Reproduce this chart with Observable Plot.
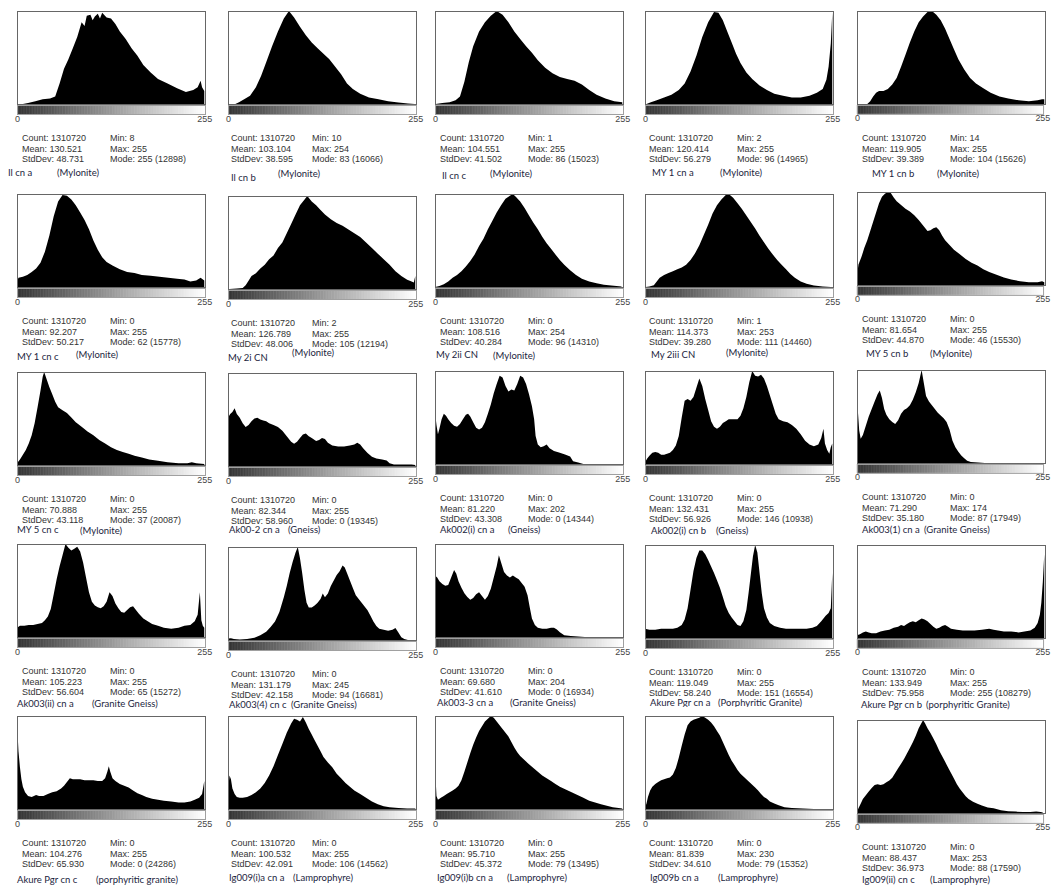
<!DOCTYPE html>
<html><head><meta charset="utf-8">
<script src="https://cdn.jsdelivr.net/npm/d3@7"></script>
<script src="https://cdn.jsdelivr.net/npm/@observablehq/plot@0.6"></script>
<style>
body{margin:0;background:#fff;}
#root{position:relative;width:1055px;height:888px;overflow:hidden;background:#fff;}
.p{position:absolute;}
.st{position:absolute;font-family:"Liberation Sans",Arial,sans-serif;font-size:9px;color:#333;line-height:10.5px;white-space:nowrap;}
.nm{position:absolute;font-family:Lato,"Open Sans",sans-serif;font-size:9.5px;color:#1c2540;white-space:nowrap;line-height:12px;}
.clip{position:absolute;overflow:hidden;}
</style></head><body><div id="root"></div>
<script>
// ---------- DATA ----------
const names = ["Il cn a","Il cn b","Il cn c","MY 1 cn a","MY 1 cn b","MY 1 cn c","My 2i CN","My 2ii CN","My 2iii CN","MY 5 cn b","MY 5 cn c","Ak00-2 cn a","Ak002(i) cn a","Ak002(i) cn b","Ak003(1) cn a","Ak003(ii) cn a","Ak003(4) cn c","Ak003-3 cn a","Akure Pgr cn a","Akure Pgr cn b","Akure Pgr cn c","Ig009(i)a cn a","Ig009(i)b cn a","Ig009b cn a","Ig009(ii) cn c"];
const rockTypes = ["(Mylonite)","(Mylonite)","(Mylonite)","(Mylonite)","(Mylonite)","(Mylonite)","(Mylonite)","(Mylonite)","(Mylonite)","(Mylonite)","(Mylonite)","(Gneiss)","(Gneiss)","(Gneiss)","(Granite Gneiss)","(Granite Gneiss)","(Granite Gneiss)","(Granite Gneiss)","(Porphyritic Granite)","(porphyritic Granite)","(porphyritic granite)","(Lamprophyre)","(Lamprophyre)","(Lamprophyre)","(Lamprophyre)"];
const pixelCount = 1310720;
const means = ["130.521","103.104","104.551","120.414","119.905","92.207","126.789","108.516","114.373","81.654","70.888","82.344","81.220","132.431","71.290","105.223","131.179","69.680","119.049","133.949","104.276","100.532","95.710","81.839","88.437"];
const stdDevs = ["48.731","38.595","41.502","56.279","39.389","50.217","48.006","40.284","39.280","44.870","43.118","58.960","43.308","56.926","35.180","56.604","42.158","41.610","58.240","75.958","65.930","42.091","45.372","34.610","36.973"];
const mins = [8,10,1,2,14,0,2,0,1,0,0,0,0,0,0,0,0,0,0,0,0,0,0,0,0];
const maxs = [255,254,255,255,255,255,255,254,253,255,255,255,202,255,174,255,245,204,255,255,255,255,255,230,253];
const modes = [255,83,86,96,104,62,105,96,111,46,37,0,0,146,87,65,94,0,151,255,0,106,79,79,88];
const modeCounts = [12898,16066,15023,14965,15626,15778,12194,14310,14460,15530,20087,19345,14344,10938,17949,15272,16681,16934,16554,108279,24286,14562,13495,15352,17590];
const tickLabels = [0,255];
const grayLevels = d3.range(256);

// histogram heights (% of panel height) at grey levels: [bin, height]
const h01 = [[8,0],[15,1],[25,3],[35,5],[45,6],[52,8],[58,22],[64,38],[70,48],[76,60],[82,72],[88,88],[92,84],[95,95],[100,96],[103,90],[106,94],[110,97],[113,92],[116,98],[122,93],[128,92],[134,86],[140,78],[148,70],[156,60],[164,52],[172,42],[182,34],[192,27],[205,22],[218,17],[230,13],[240,15],[246,18],[250,25],[252,18],[255,14]];
const h02 = [[10,0],[15,2],[22,5],[30,9],[38,18],[45,30],[52,45],[60,62],[68,78],[76,92],[83,100],[90,93],[98,83],[106,74],[114,66],[122,60],[130,54],[138,48],[146,40],[154,32],[162,22],[170,16],[180,11],[192,7],[205,5],[218,3],[232,1.5],[245,0.5],[254,0]];
const h03 = [[1,0],[10,1],[20,2],[28,4],[34,8],[40,24],[46,45],[52,62],[60,78],[68,88],[76,95],[84,100],[92,96],[100,88],[108,78],[116,70],[124,62],[132,55],[140,47],[150,39],[160,33],[170,29],[180,27],[190,25],[200,21],[210,15],[220,10],[232,6],[244,3],[255,2]];
const h04 = [[2,0],[8,2],[16,4],[26,7],[36,10],[46,15],[54,22],[62,35],[70,52],[78,72],[86,88],[94,99],[100,98],[106,90],[112,78],[118,66],[124,54],[130,44],[138,34],[146,27],[156,20],[166,15],[176,11],[188,9],[200,7],[212,7],[224,9],[234,12],[242,16],[247,26],[250,40],[253,65],[255,98]];
const h05 = [[14,0],[18,3],[22,8],[26,12],[30,14],[36,14],[42,16],[48,21],[54,28],[60,40],[66,53],[72,66],[78,78],[84,88],[90,94],[96,99],[102,100],[108,96],[114,90],[120,81],[126,70],[132,59],[138,48],[146,37],[154,28],[162,22],[172,17],[182,12],[194,8],[206,6],[220,4],[234,3],[246,4],[252,5],[255,5]];
const h06 = [[0,6],[2,10],[8,11],[14,13],[20,16],[26,20],[32,26],[38,38],[44,55],[50,76],[56,92],[62,99],[68,98],[74,94],[80,88],[86,80],[92,72],[98,62],[104,50],[110,40],[116,32],[122,27],[130,23],[140,19],[150,16],[160,15],[170,13],[182,12],[194,11],[206,10],[218,9],[228,8],[236,6],[244,7],[250,10],[255,7]];
const h07 = [[2,0],[12,0.5],[20,1],[24,4],[28,9],[32,14],[38,17],[44,22],[50,26],[56,32],[62,36],[68,44],[74,50],[80,60],[86,70],[92,80],[98,90],[104,96],[108,100],[114,94],[120,90],[126,85],[132,80],[140,75],[148,71],[156,68],[164,64],[172,60],[180,56],[188,50],[196,44],[204,38],[212,32],[220,26],[228,19],[236,14],[244,10],[250,8],[253,7],[255,14]];
const h08 = [[0,0],[6,1],[12,3],[18,6],[24,10],[30,13],[36,17],[42,22],[48,28],[54,35],[60,44],[66,52],[72,62],[78,71],[84,80],[90,88],[96,95],[102,98],[106,100],[110,97],[116,92],[122,85],[128,77],[134,69],[140,62],[146,54],[152,47],[158,41],[164,35],[170,29],[176,24],[184,18],[192,13],[200,9],[210,6],[220,4],[230,2.5],[240,1.5],[254,0.5]];
const h09 = [[1,0],[6,0.5],[12,2],[16,6],[20,10],[26,13],[32,15],[38,17],[44,19],[50,21],[56,24],[62,29],[68,36],[74,45],[80,56],[86,67],[92,79],[98,88],[104,94],[110,99],[114,100],[120,96],[126,90],[132,84],[138,77],[144,70],[150,63],[156,55],[162,48],[168,41],[174,35],[180,29],[186,24],[192,19],[198,14],[204,10],[212,6],[220,3.5],[230,1.5],[242,0.5],[253,0]];
const h10 = [[0,10],[2,22],[6,30],[10,40],[14,48],[18,58],[22,68],[26,78],[30,88],[34,95],[38,98],[42,100],[46,99],[50,94],[54,90],[60,86],[66,82],[72,79],[78,75],[84,70],[90,64],[96,58],[100,59],[104,61],[108,62],[112,59],[116,53],[120,48],[126,43],[132,38],[140,33],[148,28],[156,24],[164,21],[172,17],[180,14],[190,11],[200,8],[210,6],[222,4],[234,3],[246,3],[252,4],[255,3]];
const h11 = [[0,2],[4,6],[8,11],[12,16],[16,23],[20,32],[24,45],[28,62],[32,80],[35,95],[37,100],[40,93],[44,84],[48,76],[52,68],[56,62],[62,59],[68,56],[74,51],[80,46],[88,41],[96,36],[104,32],[112,27],[120,23],[128,19],[136,16],[144,14],[152,12],[160,10],[170,8],[180,6],[192,4.5],[205,3],[220,2],[232,2],[238,3],[244,2],[255,1]];
const h12 = [[0,52],[3,56],[6,58],[9,62],[12,56],[16,52],[20,46],[24,42],[28,44],[32,48],[36,51],[40,52],[44,50],[48,49],[52,48],[56,46],[62,44],[68,42],[74,38],[80,32],[86,26],[90,24],[94,26],[98,30],[102,34],[106,35],[110,32],[114,30],[120,27],[124,28],[128,30],[132,29],[136,25],[142,22],[150,21],[158,21],[166,22],[172,23],[176,25],[180,23],[184,19],[190,14],[196,10],[202,8],[210,7],[216,6],[220,3],[226,1.5],[240,1.5],[250,1.5],[255,1]];
const h13 = [[0,56],[2,42],[4,32],[6,38],[9,48],[12,54],[15,52],[18,48],[22,44],[26,41],[30,40],[34,43],[38,48],[42,53],[45,54],[48,51],[52,45],[56,39],[60,37],[64,39],[68,45],[72,54],[76,64],[80,76],[84,86],[88,95],[92,93],[96,84],[100,78],[104,80],[108,79],[112,86],[116,95],[120,93],[124,86],[128,75],[132,62],[135,48],[137,30],[140,21],[144,18],[148,19],[152,21],[156,17],[162,14],[170,12],[178,10],[184,8],[188,3],[195,1.5],[202,0]];
const h14 = [[0,2],[3,6],[6,9],[10,12],[14,13],[18,12],[22,10],[26,10],[30,11],[34,12],[38,15],[42,20],[46,30],[50,50],[54,68],[58,70],[62,68],[66,72],[70,82],[74,92],[78,84],[82,70],[86,58],[90,46],[94,40],[98,38],[102,40],[106,44],[110,46],[114,48],[120,48],[126,48],[130,52],[134,60],[138,72],[142,88],[146,100],[150,95],[154,94],[158,96],[162,92],[166,84],[170,74],[174,64],[178,54],[182,48],[188,46],[194,45],[200,42],[206,38],[212,32],[218,25],[224,21],[230,19],[236,21],[240,28],[243,38],[245,22],[248,15],[251,11],[253,18],[255,22]];
const h15 = [[0,48],[1,58],[3,35],[5,26],[8,30],[12,40],[16,50],[20,58],[24,66],[28,74],[31,78],[34,70],[37,58],[40,52],[44,47],[48,44],[52,42],[56,46],[60,53],[64,57],[68,59],[72,62],[76,68],[80,76],[84,86],[88,100],[91,86],[94,72],[98,66],[102,62],[106,58],[110,54],[114,51],[118,48],[122,44],[126,36],[130,24],[134,17],[138,12],[142,8],[146,5],[150,2.5],[155,1],[165,0.5],[174,0]];
const h16 = [[0,10],[4,12],[10,12],[16,13],[22,13],[28,14],[34,15],[38,18],[42,22],[46,30],[50,46],[54,62],[58,76],[62,88],[66,100],[70,96],[74,93],[78,95],[82,97],[86,92],[90,80],[94,64],[98,48],[102,38],[106,34],[110,32],[114,31],[118,33],[122,38],[126,48],[130,44],[134,36],[138,31],[142,27],[146,26],[150,29],[154,32],[158,33],[162,29],[166,25],[172,20],[178,17],[184,14],[192,12],[200,10],[210,9],[220,10],[228,12],[236,13],[242,17],[246,24],[249,48],[251,18],[253,12],[255,10]];
const h17 = [[0,1.5],[4,2],[8,1],[16,0.5],[26,1],[36,2.5],[44,5],[52,9],[58,14],[64,20],[70,30],[76,46],[80,58],[84,72],[88,84],[92,94],[95,100],[98,88],[101,72],[104,54],[107,40],[110,35],[114,35],[118,37],[122,40],[126,44],[129,50],[132,46],[136,50],[140,58],[144,64],[148,70],[152,74],[156,80],[159,78],[162,72],[166,64],[170,56],[174,48],[178,44],[182,40],[186,36],[190,32],[194,26],[198,20],[202,15],[206,12],[212,11],[218,10],[224,11],[228,13],[232,8],[236,3],[240,1],[245,0]];
const h18 = [[0,66],[3,64],[6,60],[10,57],[14,55],[18,56],[22,64],[26,72],[29,68],[32,60],[36,53],[40,47],[44,43],[48,40],[52,42],[56,46],[60,48],[64,44],[68,40],[72,44],[76,52],[80,64],[84,76],[87,88],[90,80],[94,70],[98,66],[102,64],[106,66],[110,64],[114,62],[118,58],[122,54],[126,45],[129,32],[132,20],[136,13],[140,10],[146,9],[152,9],[158,10],[162,10],[166,8],[170,5],[176,2],[185,1],[204,0]];
const h19 = [[0,10],[6,9],[14,9],[22,10],[30,10],[38,10],[44,11],[50,14],[54,20],[58,32],[62,52],[66,72],[70,86],[74,94],[78,94],[82,90],[86,84],[90,77],[94,70],[98,62],[102,54],[106,44],[110,34],[114,27],[118,22],[122,18],[126,14],[130,13],[134,18],[138,30],[141,48],[144,68],[147,88],[150,100],[153,92],[156,70],[159,48],[162,32],[166,22],[170,16],[176,13],[184,11],[192,10],[200,10],[210,10],[220,10],[228,11],[234,13],[240,18],[246,24],[250,27],[253,32],[255,70]];
const h20 = [[0,3],[4,4],[8,6],[12,7],[16,6],[20,5],[26,5],[32,7],[38,8],[44,9],[50,11],[56,12],[60,14],[64,13],[68,15],[72,17],[76,18],[80,17],[84,19],[88,21],[92,20],[96,18],[100,15],[104,12],[108,10],[112,11],[116,13],[120,14],[124,12],[128,10],[136,9],[144,8],[152,8],[160,8],[170,9],[180,10],[186,9],[192,8],[200,7],[210,7],[220,6],[228,7],[236,8],[242,11],[246,16],[249,25],[251,38],[253,60],[255,90]];
const h21 = [[0,90],[1,78],[2,62],[4,45],[6,32],[8,24],[11,18],[15,14],[20,13],[26,15],[30,14],[36,14],[42,16],[48,18],[54,19],[60,22],[64,25],[68,29],[72,33],[76,32],[80,32],[86,32],[92,31],[98,31],[104,31],[110,30],[116,30],[120,33],[123,40],[125,46],[127,40],[130,33],[134,30],[140,27],[146,25],[152,23],[158,20],[164,17],[170,15],[176,13],[184,11],[192,10],[200,9],[210,8],[220,7],[228,7],[236,8],[242,10],[248,12],[252,16],[255,30]];
const h22 = [[0,18],[2,36],[4,32],[6,22],[9,16],[12,13],[16,12],[20,12],[26,13],[32,15],[38,18],[44,22],[50,28],[56,36],[62,46],[68,58],[74,70],[80,82],[86,92],[90,97],[94,96],[98,94],[102,99],[106,93],[110,86],[114,80],[118,74],[122,68],[126,62],[130,56],[136,50],[142,45],[148,38],[154,33],[160,28],[166,24],[172,20],[180,16],[188,12],[196,8],[204,5],[212,3],[220,2],[232,1],[244,0.5],[255,0.5]];
const h23 = [[0,42],[1,30],[2,14],[4,10],[8,12],[12,14],[16,16],[20,18],[24,20],[28,22],[32,25],[36,31],[40,40],[44,50],[48,60],[52,69],[56,77],[60,84],[64,89],[68,94],[72,97],[76,100],[80,98],[84,94],[88,90],[92,86],[96,82],[100,78],[104,72],[108,66],[112,61],[116,57],[120,54],[124,51],[128,48],[134,44],[140,40],[146,36],[152,33],[158,30],[164,27],[170,24],[178,21],[186,18],[194,15],[202,12],[210,9],[218,7],[226,5],[234,3.5],[242,2],[250,1],[255,0.5]];
const h24 = [[0,1],[2,6],[4,13],[7,20],[10,24],[14,27],[18,29],[22,31],[26,32],[30,33],[34,34],[38,37],[42,44],[46,55],[50,68],[54,80],[58,90],[62,94],[66,96],[70,97],[74,98],[78,100],[82,98],[86,96],[90,93],[94,89],[98,84],[102,79],[106,72],[110,65],[114,58],[118,52],[122,47],[126,42],[130,38],[134,35],[138,32],[142,29],[146,26],[150,23],[154,20],[158,16],[162,13],[166,11],[170,8],[176,6],[182,4],[190,2],[200,1],[215,0.5],[230,0]];
const h25 = [[0,1],[2,5],[5,10],[8,15],[12,19],[16,23],[20,27],[24,30],[28,31],[32,30],[36,31],[40,33],[44,35],[48,38],[52,43],[56,48],[60,53],[64,58],[68,64],[72,70],[76,76],[80,83],[84,91],[88,97],[90,100],[93,96],[96,91],[100,86],[104,80],[108,74],[112,67],[116,61],[120,55],[124,49],[128,43],[132,37],[136,31],[140,26],[144,22],[148,18],[152,15],[158,12],[164,10],[170,8],[178,6],[186,5],[196,3],[206,2],[216,1.5],[226,1],[236,1],[244,1.5],[250,1],[253,0.5]];
const histograms = [h01,h02,h03,h04,h05,h06,h07,h08,h09,h10,h11,h12,h13,h14,h15,h16,h17,h18,h19,h20,h21,h22,h23,h24,h25];

// ---------- LAYOUT ----------
const colLeft = [17,228,435,645,857];
const statCol1 = [5,3,5,4,5];
const statCol2 = [93,84,93,92,93];
const boxTop = [11,11,11,11,11, 194,196,194,194,192, 372,373,371,371,370, 544,547,544,545,545, 716,716,716,716,720];
const nameXY = [[8,173],[231,178],[442,176],[652,173],[872,174],[17,357],[228,358],[436,355],[651,355],[866,354],[17,530],[229,530],[440,530],[651,531],[862,530],[17,704],[229,705],[437,703],[650,703],[861,705],[17,880],[229,878],[437,878],[650,878],[862,880]];
const typeXY = [[57,173],[278,174],[490,174],[720,173],[937,174],[76,355],[292,353],[493,356],[726,353],[930,354],[80,531],[288,530],[508,530],[716,531],[924,530],[92,704],[291,705],[510,703],[718,703],[926,705],[96,880],[293,878],[507,878],[718,878],[930,880]];
const clipBelow = {18: 707};
const BW = 188, BH = 93;

const root = document.getElementById("root");
function place(el, x, y, cls) {
  const d = document.createElement("div");
  d.className = cls || "p";
  d.style.left = x + "px"; d.style.top = y + "px";
  if (el) d.appendChild(el);
  root.appendChild(d);
  return d;
}

histograms.forEach((h, i) => {
  const c = i % 5, L = colLeft[c], T = boxTop[i];
  const hist = Plot.plot({
    width: BW + 2, height: BH + 2, margin: 1,
    x: {domain: [0, 256], axis: null},
    y: {domain: [0, 100], axis: null},
    style: {background: "transparent", overflow: "visible"},
    marks: [
      Plot.areaY(h, {x: d => d[0], y: d => d[1], fill: "#000", curve: "linear"}),
      Plot.frame({stroke: "#666"})
    ]
  });
  place(hist, L - 1, T - 1);

  const grad = Plot.plot({
    width: BW + 24, height: 30, marginLeft: 12, marginRight: 12, marginTop: 1, marginBottom: 20,
    x: {domain: [0, 256], axis: null},
    y: {axis: null},
    color: {type: "identity"},
    style: {background: "transparent", overflow: "visible", fontFamily: "'Liberation Sans', Arial, sans-serif", fontSize: "9px"},
    marks: [
      Plot.rect(grayLevels, {x1: d => d, x2: d => d + 1, fill: d => `rgb(${d},${d},${d})`}),
      Plot.frame({stroke: "#a0a0a0"}),
      Plot.text(tickLabels, {x: d => d, frameAnchor: "bottom", dy: 7, text: d => String(d), fill: "#444", fontSize: 9})
    ]
  });
  place(grad, L - 12, T + 93);

  const s1 = place(null, L + statCol1[c], T + 122, "st");
  s1.innerHTML = `Count: ${pixelCount}<br>Mean: ${means[i]}<br>StdDev: ${stdDevs[i]}`;
  const s2 = place(null, L + statCol2[c], T + 122, "st");
  s2.innerHTML = `Min: ${mins[i]}<br>Max: ${maxs[i]}<br>Mode: ${modes[i]} (${modeCounts[i]})`;

  const [nx, ny] = nameXY[i], [tx, ty] = typeXY[i];
  if (clipBelow[i]) {
    const top = Math.min(ny, ty) - 7;
    const cl = place(null, 0, top, "clip");
    cl.style.width = "1055px"; cl.style.height = (clipBelow[i] - top) + "px";
    const a = document.createElement("div"); a.className = "nm"; a.style.left = nx + "px"; a.style.top = (ny - 6 - top) + "px"; a.textContent = names[i]; cl.appendChild(a);
    const b = document.createElement("div"); b.className = "nm"; b.style.left = tx + "px"; b.style.top = (ty - 6 - top) + "px"; b.textContent = rockTypes[i]; cl.appendChild(b);
  } else {
    place(null, nx, ny - 6, "nm").textContent = names[i];
    place(null, tx, ty - 6, "nm").textContent = rockTypes[i];
  }
});
</script></body></html>
